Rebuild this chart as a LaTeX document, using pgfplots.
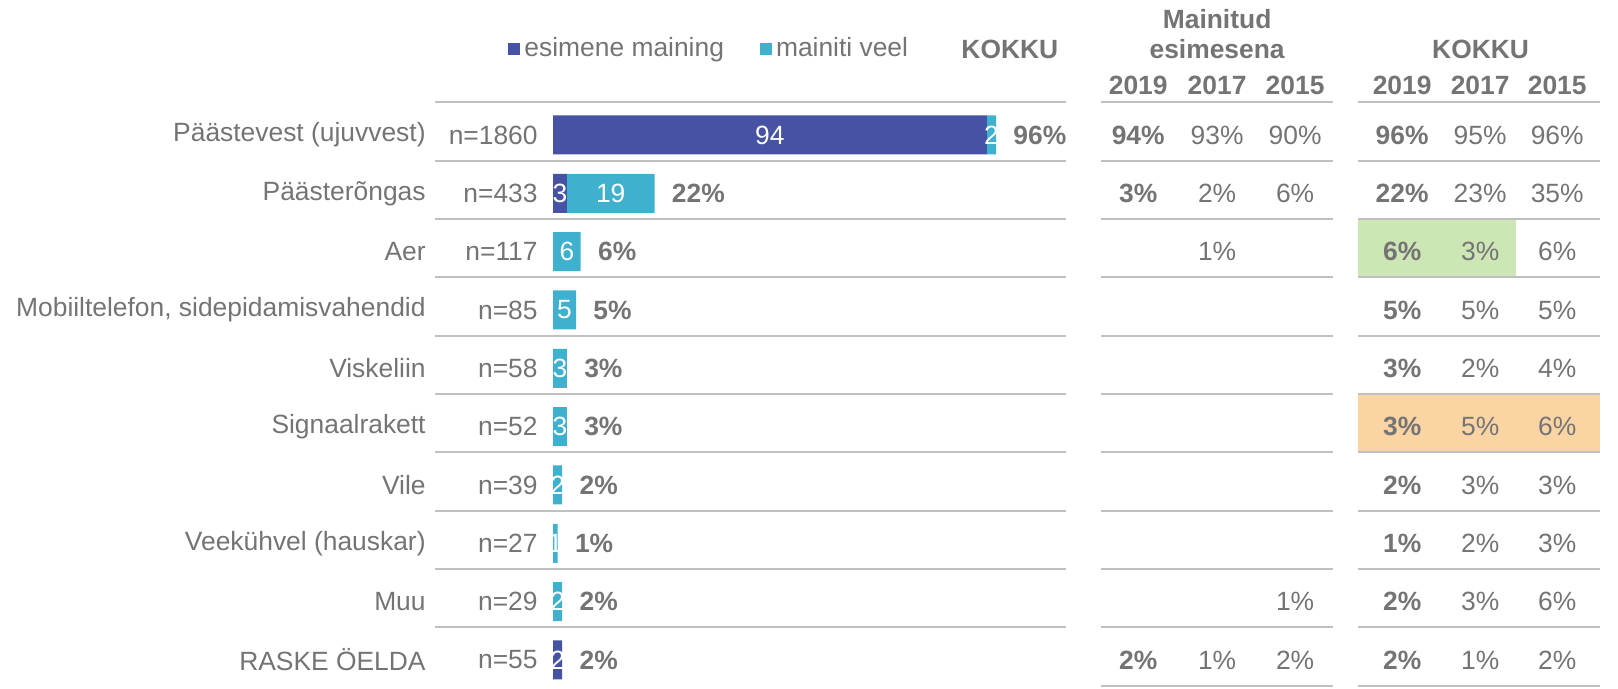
\documentclass[border=0pt]{standalone}
\usepackage{pgfplots}
\usepackage{pgfplotstable}
\pgfplotsset{compat=1.18}
\usepackage{fontspec}
\setmainfont{Liberation Sans}

\definecolor{dblue}{HTML}{4652A4}
\definecolor{lblue}{HTML}{3FB1CE}
\definecolor{txt}{HTML}{747474}
\definecolor{rulec}{HTML}{C0C0C0}
\definecolor{hgreen}{HTML}{CDE6B6}
\definecolor{horange}{HTML}{FBD4A4}
\newcommand\fsz{\fontsize{13.2}{15.8}\selectfont}
\pgfkeys{/pgf/number format/assume math mode=true}

\pgfplotstableread[col sep=semicolon]{
row;first;other;total;n;cat
1;94;2;96;1860;Päästevest (ujuvvest)
2;3;19;22;433;Päästerõngas
3;0;6;6;117;Aer
4;0;5;5;85;Mobiiltelefon, sidepidamisvahendid
5;0;3;3;58;Viskeliin
6;0;3;3;52;Signaalrakett
7;0;2;2;39;Vile
8;0;1;1;27;Veekühvel (hauskar)
9;0;2;2;29;Muu
10;2;0;2;55;RASKE ÖELDA
}\main

\pgfplotstableread[col sep=semicolon]{
row;a;b;c
1;96;95;96
2;22;23;35
3;6;3;6
4;5;5;5
5;3;2;4
6;3;5;6
7;2;3;3
8;1;2;3
9;2;3;6
10;2;1;2
}\kokku

\pgfplotsset{
  /pgf/number format/assume math mode=true,
  base/.style={scale only axis, width=809pt, height=344.5pt,
    xmin=-119.83, xmax=230.77, ymin=-1.3145, ymax=10.498,
    y dir=reverse, hide axis, clip=false,
    /pgf/number format/assume math mode=true},
  textplot/.style={draw=none, mark=none, nodes near coords,
    every node near coord/.append style={inner sep=0pt, font=\fsz, text=txt, anchor=center}},
  pct/.style={point meta=explicit,
    nodes near coords={\pgfmathprintnumber[assume math mode=true]{\pgfplotspointmeta}\%}},
  rulestyle/.style={draw=rulec, line width=1.1pt, mark=none},
}

\begin{document}
\begin{tikzpicture}
\useasboundingbox (0,0) rectangle (809pt,344.5pt);
% decorations and text
\begin{axis}[base]
  \addplot[fill=hgreen, draw=none] coordinates {(174.4,2.44) (208.7,2.44) (208.7,3.44) (174.4,3.44)} -- cycle;
  \addplot[fill=horange, draw=none] coordinates {(174.4,5.44) (226.9,5.44) (226.9,6.44) (174.4,6.44)} -- cycle;
  \pgfplotsinvokeforeach{0.44,1.44,2.44,3.44,4.44,5.44,6.44,7.44,8.44,9.44}{
    \addplot[rulestyle] coordinates {(-25.57,#1) (111.16,#1)};
  }
  \pgfplotsinvokeforeach{0.44,1.44,2.44,3.44,4.44,5.44,6.44,7.44,8.44,9.44,10.44}{
    \addplot[rulestyle] coordinates {(118.7,#1) (169.0,#1)};
    \addplot[rulestyle] coordinates {(174.4,#1) (226.9,#1)};
  }
  % category labels
  \addplot[textplot, point meta=explicit symbolic,
    every node near coord/.append style={anchor=east}]
    table[x expr=-27.52, y=row, meta=cat]{\main};
  % n labels
  \addplot[textplot, point meta=explicit symbolic, nodes near coords={n=\pgfplotspointmeta},
    every node near coord/.append style={anchor=east}]
    table[x expr=-3.25, y=row, meta=n]{\main};
  % totals
  \addplot[textplot, pct, every node near coord/.append style={anchor=west, xshift=8.5pt, font=\fsz\bfseries}]
    table[x=total, y=row, meta=total]{\main};
  % table 1: Mainitud esimesena
  \addplot[textplot, pct, every node near coord/.append style={font=\fsz\bfseries}]
    coordinates {(126.8,1)[94] (126.8,2)[3] (126.8,10)[2]};
  \addplot[textplot, pct]
    coordinates {(143.9,1)[93] (143.9,2)[2] (143.9,3)[1] (143.9,10)[1]};
  \addplot[textplot, pct]
    coordinates {(160.8,1)[90] (160.8,2)[6] (160.8,9)[1] (160.8,10)[2]};
  % table 2: KOKKU
  \addplot[textplot, pct, every node near coord/.append style={font=\fsz\bfseries}]
    table[x expr=184.0, y=row, meta=a]{\kokku};
  \addplot[textplot, pct] table[x expr=200.9, y=row, meta=b]{\kokku};
  \addplot[textplot, pct] table[x expr=217.6, y=row, meta=c]{\kokku};
  % headers
  \node[font=\fsz\bfseries, text=txt] at (axis cs:99.0,-0.474) {KOKKU};
  \node[font=\fsz\bfseries, text=txt] at (axis cs:143.9,-0.989) {Mainitud};
  \node[font=\fsz\bfseries, text=txt] at (axis cs:143.9,-0.474) {esimesena};
  \node[font=\fsz\bfseries, text=txt] at (axis cs:201.0,-0.474) {KOKKU};
  \node[font=\fsz\bfseries, text=txt] at (axis cs:126.8,0.143) {2019};
  \node[font=\fsz\bfseries, text=txt] at (axis cs:143.9,0.143) {2017};
  \node[font=\fsz\bfseries, text=txt] at (axis cs:160.8,0.143) {2015};
  \node[font=\fsz\bfseries, text=txt] at (axis cs:184.0,0.143) {2019};
  \node[font=\fsz\bfseries, text=txt] at (axis cs:200.9,0.143) {2017};
  \node[font=\fsz\bfseries, text=txt] at (axis cs:217.6,0.143) {2015};
\end{axis}
% bars
\begin{axis}[base, xbar stacked, bar width=19.5pt,
  legend columns=2,
  legend image code/.code={\fill[#1] (0pt,-3pt) rectangle (6pt,3pt);},
  legend style={at={(0.314,0.929)}, anchor=west, draw=none, fill=none,
    inner sep=0pt, font=\fsz, text=txt,
    /tikz/every even column/.append style={column sep=16pt}},
  ]
  \addplot[fill=dblue, draw=none, point meta=explicit,
    nodes near coords={\pgfmathfloatifflags{\pgfplotspointmeta}{0}{}{\pgfmathprintnumber[assume math mode=true]{\pgfplotspointmeta}}},
    every node near coord/.append style={text=white, font=\fsz}]
    table[x=first, y=row, meta=first]{\main};
  \addplot[fill=lblue, draw=none, point meta=explicit,
    nodes near coords={\pgfmathfloatifflags{\pgfplotspointmeta}{0}{}{\pgfmathprintnumber[assume math mode=true]{\pgfplotspointmeta}}},
    every node near coord/.append style={text=white, font=\fsz}]
    table[x=other, y=row, meta=other]{\main};
  \legend{esimene maining, mainiti veel}
\end{axis}
\end{tikzpicture}
\end{document}
